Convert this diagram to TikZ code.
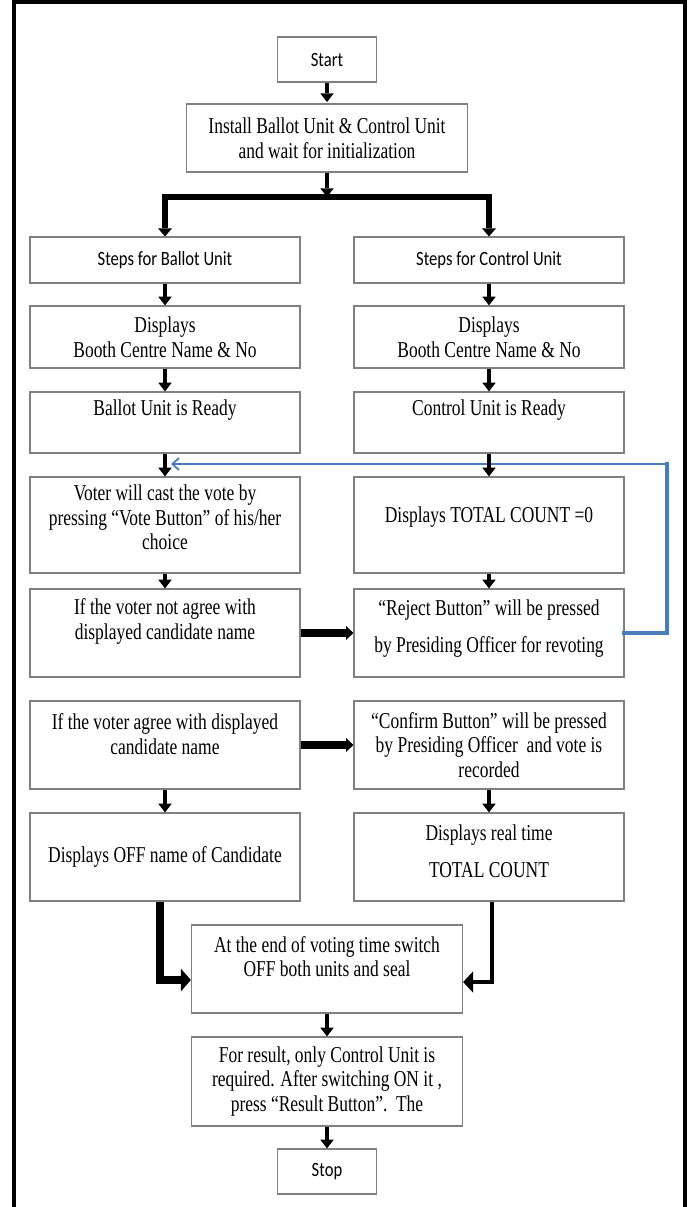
\documentclass[tikz,border=0pt]{standalone}
\usepackage{fontspec}
\setmainfont{Liberation Serif}[FakeStretch=0.77]
\newfontfamily\calfont{Carlito}[FakeStretch=0.82]
\usetikzlibrary{arrows.meta,calc}
\definecolor{boxgray}{RGB}{128,128,128}
\definecolor{loopblue}{RGB}{74,126,187}
\begin{document}
\begin{tikzpicture}[x=0.75pt,y=-0.75pt,
  sz/.style 2 args={minimum width=#1*0.75pt, minimum height=#2*0.75pt},
  box/.style={draw=boxgray, line width=0.9pt, fill=white, inner sep=0pt, align=center,
              font=\fontsize{17}{18.4}\selectfont},
  cbox/.style={box, font=\calfont\fontsize{15.2}{18}\selectfont},
  txt/.style={inner sep=0pt, align=center, font=\fontsize{17}{18.4}\selectfont},
  small/.style={line width=3.5pt, -{Triangle[width=10pt,length=6.5pt,line width=0pt]}},
  barline/.style={line width=4.5pt, line join=miter,
     {Triangle[width=10.5pt,length=6pt,line width=0pt]}-{Triangle[width=10.5pt,length=6pt,line width=0pt]}},
  harr/.style={line width=6.5pt, -{Triangle[width=10.5pt,length=5.5pt,line width=0pt]}},
  lleft/.style={line width=5.5pt, line join=miter, -{Triangle[width=17pt,length=7.5pt,line width=0pt]}},
  lright/.style={line width=3.6pt, line join=miter, -{Triangle[width=16pt,length=7.5pt,line width=0pt]}},
  loop/.style={draw=loopblue, line cap=rect}
]
\useasboundingbox (0,0) rectangle (692,1207);

% outer frame
\draw[line width=3.4pt, line join=miter] (14,1215) -- (14,2) -- (685,2) -- (685,1215);

% boxes
\node[cbox, sz={99}{45}] (start) at (327,59.5) {Start};
\node[box, sz={281}{68}] (install) at (327,138) {Install Ballot Unit \& Control Unit\\and wait for initialization};

\node[cbox, sz={270}{46}] (stepsB) at (165,260) {Steps for Ballot Unit};
\node[cbox, sz={270}{46}] (stepsC) at (489,260) {Steps for Control Unit};

\node[box, sz={270}{62}] (boothB) at (165,337) {Displays\\Booth Centre Name \& No};
\node[box, sz={270}{62}] (boothC) at (489,337) {Displays\\Booth Centre Name \& No};

\node[box, sz={270}{61}] (readyB) at (165,422.5) {};
\node[txt] (readyBt) at (165,410) {Ballot Unit is Ready};
\node[box, sz={270}{61}] (readyC) at (489,422.5) {};
\node[txt] (readyCt) at (489,410) {Control Unit is Ready};

\node[box, sz={270}{96}] (voter) at (165,525) {};
\node[txt] (votert) at (165,517.5) {Voter will cast the vote by\\pressing “Vote Button” of his/her\\choice};
\node[box, sz={270}{96}] (total0) at (489,525) {};
\node[txt] (total0t) at (489,517) {Displays TOTAL COUNT =0};

\node[box, sz={270}{88}] (notagree) at (165,633) {};
\node[txt] (notagreet) at (165,621.5) {If the voter not agree with\\displayed candidate name};
\node[box, sz={270}{88}] (reject) at (489,633) {};
\node[txt] (rejectt) at (489,628.5) {“Reject Button” will be pressed\\[9.3pt]by Presiding Officer for revoting};

\node[box, sz={270}{88}] (agree) at (165,745) {};
\node[txt] (agreet) at (165,734) {If the voter agree with displayed\\candidate name};
\node[box, sz={270}{88}] (confirm) at (489,745) {“Confirm Button” will be pressed\\by Presiding Officer\ \ and vote is\\recorded};

\node[box, sz={270}{88}] (off) at (165,857) {Displays OFF name of Candidate};
\node[box, sz={270}{88}] (realtime) at (489,857) {};
\node[txt] (realtimet) at (489,851.5) {Displays real time\\[9.3pt]TOTAL COUNT};

\node[box, sz={271}{88}] (endv) at (327,969) {};
\node[txt] (endvt) at (327,956.5) {At the end of voting time switch\\OFF both units and seal};

\node[box, sz={271}{89}] (result) at (327,1081.5) {For result, only Control Unit is\\required. After switching ON it ,\\press “Result Button”.\ \ The};

\node[cbox, sz={99}{45}] (stop) at (327,1171.5) {Stop};

% blue revote loop
\coordinate (loopTop) at (667,464);
\coordinate (loopEnd) at (171,464);
\draw[loop, line width=3.3pt] (reject.east) -- (reject.east -| loopTop);
\draw[loop, line width=2.3pt] (reject.east -| loopTop) -- (loopTop);
\draw[loop, line width=1.3pt, line cap=butt, -{Straight Barb[width=9pt,length=5pt]}] (loopTop) -- (loopEnd);

% top connectors
\coordinate (bar) at (327,197);
\draw[small, shorten >=1pt] (start) -- (install);
\draw[small] (install) -- (bar);
\draw[barline] (stepsB.north) |- (bar) -| (stepsC.north);

% columns
\draw[small] (stepsB) -- (boothB);
\draw[small] (stepsC) -- (boothC);
\draw[small] (boothB) -- (readyB);
\draw[small] (boothC) -- (readyC);
\draw[small] (readyB) -- (voter);
\draw[small] (readyC) -- (total0);
\draw[small] (voter) -- (notagree);
\draw[small] (total0) -- (reject);
\draw[small] (agree) -- (off);
\draw[small] (confirm) -- (realtime);

% horizontal arrows
\draw[harr] (notagree) -- (reject);
\draw[harr] (agree) -- (confirm);

% merge into end box
\draw[lleft] ([xshift=-3.75pt]off.south) |- ([yshift=-8.25pt]endv.west);
\draw[lright] ([xshift=2.25pt]realtime.south) |- ([yshift=-9.75pt]endv.east);

\draw[small] (endv) -- (result);
\draw[small] (result) -- (stop);
\end{tikzpicture}
\end{document}
